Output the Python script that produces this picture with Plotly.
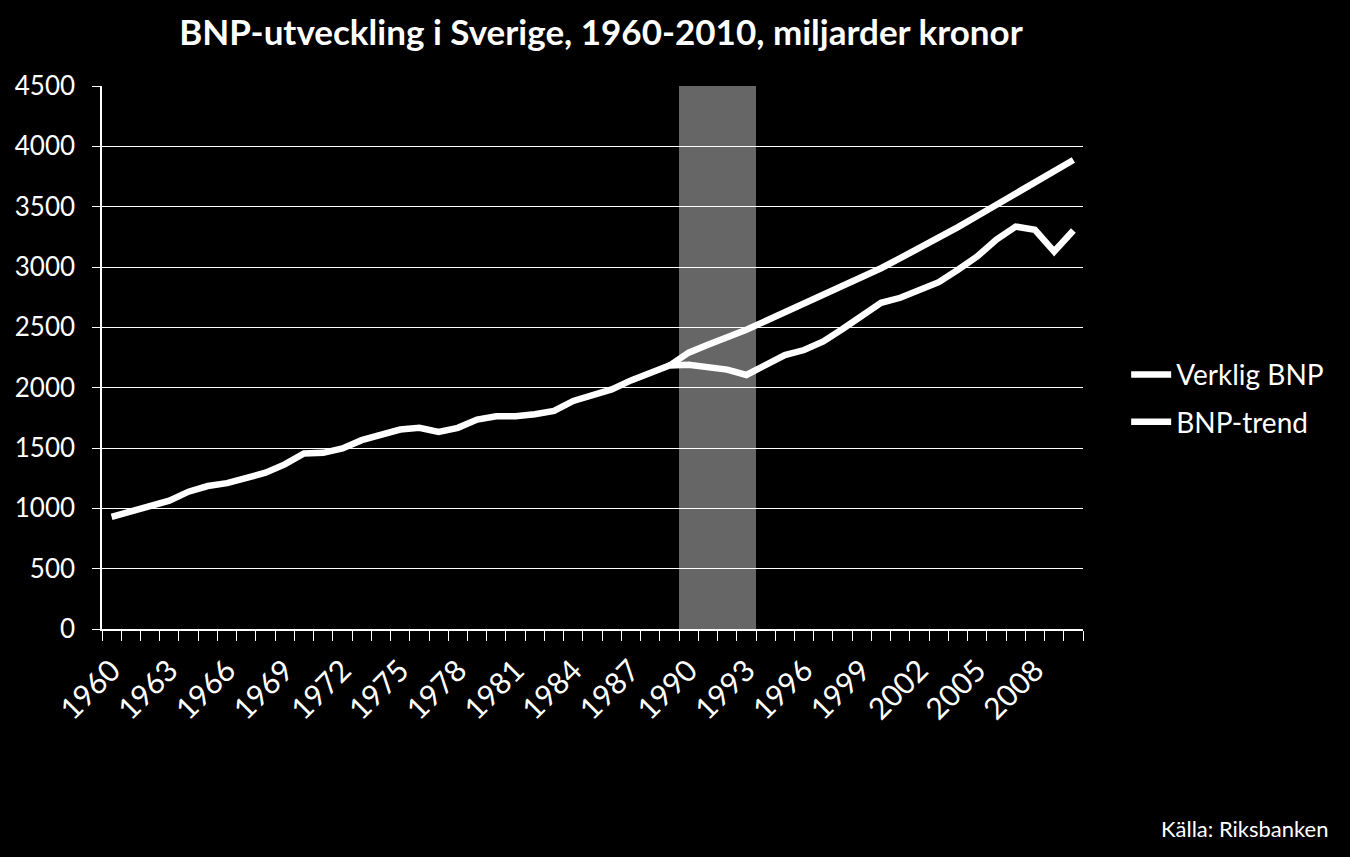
import plotly.graph_objects as go

years = list(range(1960, 2011))
verklig_bnp = [930, 972, 1011, 1063, 1138, 1185, 1209, 1248, 1295, 1364,
               1455, 1460, 1496, 1565, 1614, 1653, 1667, 1634, 1667, 1736,
               1763, 1763, 1780, 1807, 1890, 1934, 1985, 2060, 2117, 2183,
               2190, 2172, 2150, 2105, 2185, 2270, 2312, 2383, 2486, 2593,
               2703, 2745, 2806, 2874, 2977, 3087, 3228, 3335, 3308, 3128,
               3302]
trend_years = list(range(1989, 2011))
bnp_trend = [2183, 2290, 2356, 2414, 2480, 2552, 2623, 2692, 2767, 2844,
             2919, 2990, 3073, 3156, 3241, 3330, 3423, 3517, 3608, 3705,
             3796, 3887]
kris_years = [1990, 1991, 1992, 1993]
kris_band = [4500, 4500, 4500, 4500]
x_tick_labels = [str(y) for y in range(1960, 2011, 3)]
y_ticks = [0, 500, 1000, 1500, 2000, 2500, 3000, 3500, 4000, 4500]

FONT = "Lato"
fig = go.Figure()
fig.add_trace(go.Bar(x=kris_years, y=kris_band, width=1,
                     marker=dict(color="rgba(255,255,255,0.4)", line=dict(width=0)),
                     showlegend=False, hoverinfo="skip"))
fig.add_trace(go.Scatter(x=years, y=verklig_bnp, mode="lines", name="Verklig BNP",
                         legendgroup="a",
                         line=dict(color="white", width=6.5)))
fig.add_trace(go.Scatter(x=trend_years, y=bnp_trend, mode="lines", name="BNP-trend",
                         legendgroup="b",
                         line=dict(color="white", width=6.5)))

fig.update_layout(
    width=1350, height=857,
    paper_bgcolor="black", plot_bgcolor="black",
    margin=dict(l=102, r=267, t=86, b=228),
    font=dict(family=FONT, color="white", size=26),
    title=dict(text="<b>BNP-utveckling i Sverige, 1960-2010, miljarder kronor</b>",
               x=601 / 1350, xanchor="center", y=1 - 33 / 857, yanchor="middle",
               yref="container", font=dict(family=FONT, size=35, color="white")),
    legend=dict(x=1.044, xanchor="left", y=0.425, yanchor="middle",
                font=dict(size=28, color="white"), bgcolor="rgba(0,0,0,0)",
                itemwidth=40, tracegroupgap=8),
    bargap=0,
    showlegend=True,
)
fig.update_xaxes(
    range=[1959.5, 2010.5], tickmode="array",
    tickvals=[int(t) for t in x_tick_labels], ticktext=x_tick_labels,
    tickangle=-45, ticks="", showgrid=False,
    showline=True, linecolor="white", linewidth=1.5,
    tickfont=dict(size=30, color="white"), ticklabelstandoff=10,
    minor=dict(ticks="outside", ticklen=10, tickcolor="white", tickwidth=1,
               tick0=1959.5, dtick=1, showgrid=False),
)
fig.update_yaxes(
    range=[0, 4500], tickmode="array", tickvals=y_ticks,
    showgrid=True, gridcolor="white", gridwidth=1.2,
    ticks="outside", ticklen=8, tickcolor="white",
    showline=True, linecolor="white", linewidth=1.5,
    zeroline=False, tickfont=dict(size=26, color="white"),
    ticklabelstandoff=12,
)
fig.add_annotation(text="Källa: Riksbanken", xref="paper", yref="paper",
                   x=(1330 - 102) / 981, y=(629 - 828) / 543,
                   xanchor="right", yanchor="middle", showarrow=False,
                   font=dict(size=22, color="white", family=FONT))
fig.write_html("out.html",
               config={"displayModeBar": False},
               post_script="document.body.style.margin='0';"
                           "document.body.style.background='black';"
                           "document.body.style.overflow='hidden';")
